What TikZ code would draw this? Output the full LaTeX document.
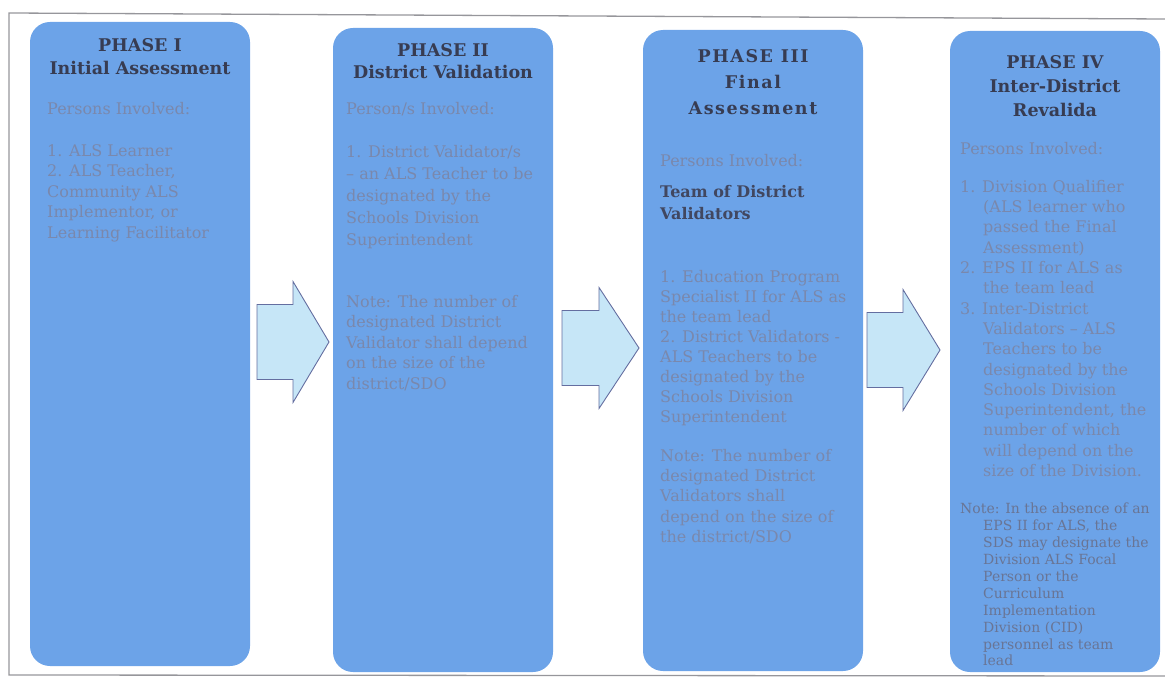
\documentclass[tikz,border=0pt]{standalone}
\usepackage{fontspec}
\setmainfont{DejaVu Serif}
\usepackage{tikz}

\definecolor{boxblue}{RGB}{108,163,232}
\definecolor{titlegray}{RGB}{55,60,82}
\definecolor{bodygray}{RGB}{122,136,172}
\definecolor{arrowfill}{RGB}{198,230,247}
\definecolor{arrowline}{RGB}{100,110,160}
\definecolor{framegray}{RGB}{150,150,155}

\newcommand{\hangpad}{\hspace*{23pt}}

\begin{document}
\begin{tikzpicture}[x=1pt,y=-1pt,
  phasebox/.style={rounded corners=20pt,fill=boxblue,draw=none,minimum width=220pt,minimum height=644pt,inner sep=0pt},
  titletext/.style={anchor=north,align=center,inner sep=0pt,text=titlegray,font=\fontsize{17.5}{23}\selectfont\bfseries},
  bodytext/.style={anchor=north west,align=left,inner sep=0pt,text=bodygray,font=\fontsize{16}{20.5}\selectfont},
  teamtext/.style={anchor=north west,align=left,inner sep=0pt,text=titlegray!85!bodygray,font=\fontsize{16}{22}\selectfont\bfseries},
  notetext/.style={anchor=north west,align=left,inner sep=0pt,text=bodygray!75!titlegray,font=\fontsize{14}{16.9}\selectfont},
  blockarrow/.style={fill=arrowfill,draw=arrowline,line width=0.9pt,line join=miter}]
\useasboundingbox (0,0) rectangle (1165,679);

% outer frame
\draw[framegray,line width=1.3pt] (1165,19) -- (9,13) -- (9,675) -- (1165,676);

% phase boxes
\node[phasebox] (ph1) at (140,344) {};
\node[phasebox] (ph2) at (443,350) {};
\node[phasebox,minimum height=641pt] (ph3) at (753,350.5) {};
\node[phasebox,minimum width=210pt,minimum height=641pt] (ph4) at (1055,351.5) {};

% block arrows
\draw[blockarrow,shift={(293,342)}] (-36,-37.5) -- (0,-37.5) -- (0,-60.5) -- (36,0) -- (0,60.5) -- (0,37.5) -- (-36,37.5) -- cycle;
\draw[blockarrow,shift={(599,348)}] (-37,-37.5) -- (0,-37.5) -- (0,-60.5) -- (40,0) -- (0,60.5) -- (0,37.5) -- (-37,37.5) -- cycle;
\draw[blockarrow,shift={(903,350)}] (-36,-37.5) -- (0,-37.5) -- (0,-60.5) -- (37,0) -- (0,60.5) -- (0,37.5) -- (-36,37.5) -- cycle;

% phase I
\node[titletext] (t1) at (140,38) {PHASE I\\Initial Assessment};
\node[bodytext] (who1) at (47,102) {Persons Involved:};
\node[bodytext] (list1) at (47,144) {1. ALS Learner\\2. ALS Teacher,\\Community ALS\\Implementor, or\\Learning Facilitator};

% phase II
\node[titletext,font=\fontsize{17.5}{22}\selectfont\bfseries] (t2) at (443,43) {PHASE II\\District Validation};
\node[bodytext] (who2) at (346,102) {Person/s Involved:};
\node[bodytext,font=\fontsize{16}{22}\selectfont] (list2) at (346,145) {1. District Validator/s\\– an ALS Teacher to be\\designated by the\\Schools Division\\Superintendent};
\node[bodytext] (note2) at (346,295) {Note: The number of\\designated District\\Validator shall depend\\on the size of the\\district/SDO};

% phase III
\node[titletext,font=\fontsize{17.5}{26}\selectfont\bfseries\addfontfeature{LetterSpace=9}] (t3) at (753,49) {PHASE III\\Final\\Assessment};
\node[bodytext] (who3) at (660,154) {Persons Involved:};
\node[teamtext] (team3) at (660,185) {Team of District\\Validators};
\node[bodytext,font=\fontsize{16}{20}\selectfont] (list3) at (660,270) {1. Education Program\\Specialist II for ALS as\\the team lead\\2. District Validators -\\ALS Teachers to be\\designated by the\\Schools Division\\Superintendent};
\node[bodytext,font=\fontsize{16}{20.25}\selectfont] (note3) at (660,449) {Note: The number of\\designated District\\Validators shall\\depend on the size of\\the district/SDO};

% phase IV
\node[titletext,font=\fontsize{17.5}{24}\selectfont\bfseries] (t4) at (1055,55) {PHASE IV\\Inter-District\\Revalida};
\node[bodytext] (who4) at (960,142) {Persons Involved:};
\node[bodytext,font=\fontsize{16}{20.3}\selectfont] (list4) at (960,180) {1. Division Qualifier\\\hangpad(ALS learner who\\\hangpad passed the Final\\\hangpad Assessment)\\2. EPS II for ALS as\\\hangpad the team lead\\3. Inter-District\\\hangpad Validators – ALS\\\hangpad Teachers to be\\\hangpad designated by the\\\hangpad Schools Division\\\hangpad Superintendent, the\\\hangpad number of which\\\hangpad will depend on the\\\hangpad size of the Division.};
\node[notetext] (note4) at (960,503) {Note: In the absence of an\\\hangpad EPS II for ALS, the\\\hangpad SDS may designate the\\\hangpad Division ALS Focal\\\hangpad Person or the\\\hangpad Curriculum\\\hangpad Implementation\\\hangpad Division (CID)\\\hangpad personnel as team\\\hangpad lead};
\end{tikzpicture}
\end{document}
